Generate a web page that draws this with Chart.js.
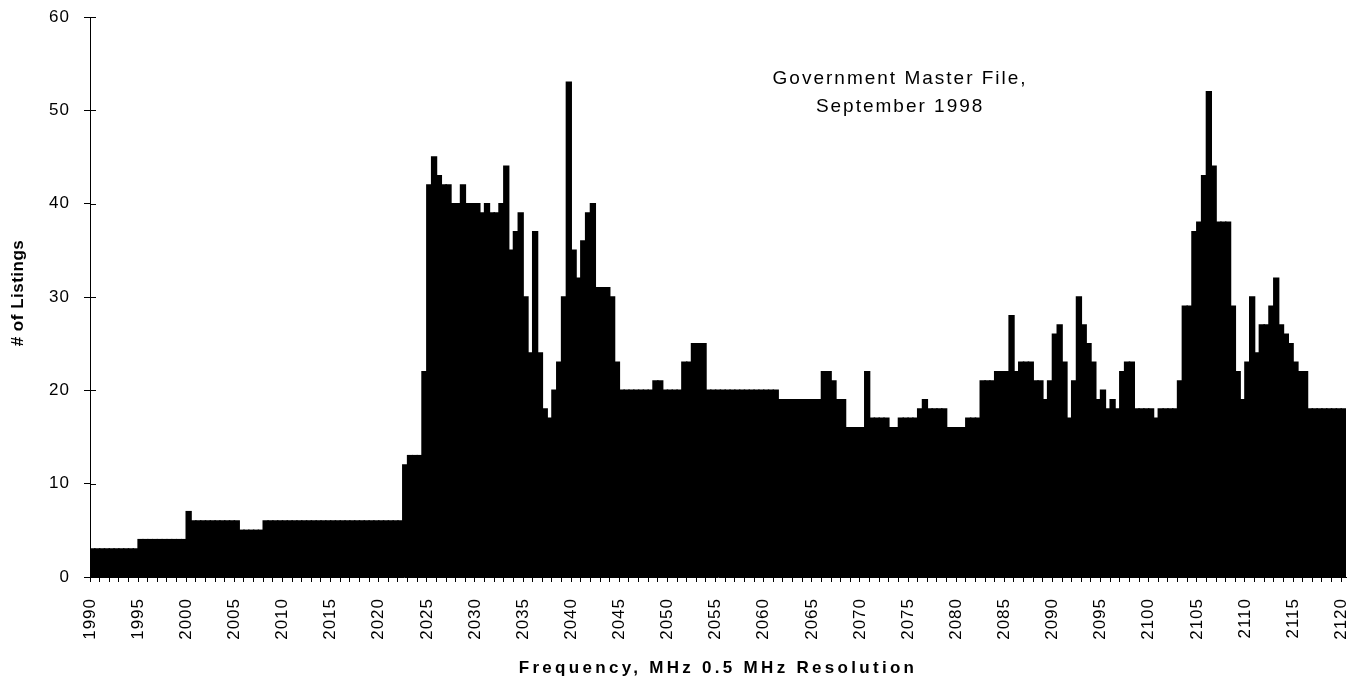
<!DOCTYPE html>
<html>
<head>
<meta charset="utf-8">
<script src="https://cdn.jsdelivr.net/npm/chart.js@4.4.1/dist/chart.umd.min.js"></script>
<style>
  html, body { margin: 0; padding: 0; background: #fff; }
  #wrap { width: 1360px; height: 681px; }
</style>
</head>
<body>
<div id="wrap"><canvas id="chart" width="1360" height="681"></canvas></div>
<script>
/* ===== Government Master File listings, 0.5 MHz bins ===== */
const freqStart = 1990;   // MHz, left edge of first bin
const freqStep = 0.5;     // MHz per bin

// # of listings per bin, 1990.0 ... 2120.0 (10 bins = 5 MHz per row)
const listings = [
  3, 3, 3, 3, 3, 3, 3, 3, 3, 3,
  4, 4, 4, 4, 4, 4, 4, 4, 4, 4,
  7, 6, 6, 6, 6, 6, 6, 6, 6, 6,
  6, 5, 5, 5, 5, 5, 6, 6, 6, 6,
  6, 6, 6, 6, 6, 6, 6, 6, 6, 6,
  6, 6, 6, 6, 6, 6, 6, 6, 6, 6,
  6, 6, 6, 6, 6, 12, 13, 13, 13, 22,
  42, 45, 43, 42, 42, 40, 40, 42, 40, 40,
  40, 39, 40, 39, 39, 40, 44, 35, 37, 39,
  30, 24, 37, 24, 18, 17, 20, 23, 30, 53,
  35, 32, 36, 39, 40, 31, 31, 31, 30, 23,
  20, 20, 20, 20, 20, 20, 20, 21, 21, 20,
  20, 20, 20, 23, 23, 25, 25, 25, 20, 20,
  20, 20, 20, 20, 20, 20, 20, 20, 20, 20,
  20, 20, 20, 19, 19, 19, 19, 19, 19, 19,
  19, 19, 22, 22, 21, 19, 19, 16, 16, 16,
  16, 22, 17, 17, 17, 17, 16, 16, 17, 17,
  17, 17, 18, 19, 18, 18, 18, 18, 16, 16,
  16, 16, 17, 17, 17, 21, 21, 21, 22, 22,
  22, 28, 22, 23, 23, 23, 21, 21, 19, 21,
  26, 27, 23, 17, 21, 30, 27, 25, 23, 19,
  20, 18, 19, 18, 22, 23, 23, 18, 18, 18,
  18, 17, 18, 18, 18, 18, 21, 29, 29, 37,
  38, 43, 52, 44, 38, 38, 38, 29, 22, 19,
  23, 30, 24, 27, 27, 29, 32, 27, 26, 25,
  23, 22, 22, 18, 18, 18, 18, 18, 18, 18,
  18
];

// labelled x ticks (a tick mark every 1 MHz, a label every 5)
const xTickLabels = [1990, 1995, 2000, 2005, 2010, 2015, 2020, 2025, 2030, 2035, 2040,
  2045, 2050, 2055, 2060, 2065, 2070, 2075, 2080, 2085, 2090, 2095, 2100, 2105, 2110, 2115, 2120];

const yMin = 0, yMax = 60, yStep = 10;

const noteLines = ['Government Master File,', 'September 1998'];
const xTitle = 'Frequency, MHz 0.5 MHz Resolution';
const yTitle = '# of Listings';

const FONT = '"Liberation Sans", Arial, sans-serif';

// extra texts + inner half of the y tick marks
const textPlugin = {
  id: 'texts',
  beforeUpdate(chart) { chart.ctx.letterSpacing = '1px'; },
  beforeDraw(chart) { chart.ctx.letterSpacing = '1px'; },
  afterDraw(chart) {
    const { ctx, chartArea, scales } = chart;
    ctx.save();
    ctx.strokeStyle = '#000';
    ctx.lineWidth = 1;
    scales.y.ticks.forEach((t, i) => {
      const y = Math.round(scales.y.getPixelForTick(i)) + 0.5;
      ctx.beginPath();
      ctx.moveTo(chartArea.left, y);
      ctx.lineTo(chartArea.left + 6, y);
      ctx.stroke();
    });

    ctx.fillStyle = '#000';
    ctx.textAlign = 'center';
    ctx.textBaseline = 'middle';

    ctx.font = '19px ' + FONT;
    ctx.letterSpacing = '2px';
    const nx = chartArea.left + chartArea.width * 0.645;
    noteLines.forEach((line, i) => ctx.fillText(line, nx, chartArea.top + 62 + i * 28));

    ctx.font = 'bold 17px ' + FONT;
    ctx.letterSpacing = '3.3px';
    ctx.fillText(xTitle, (chartArea.left + chartArea.right) / 2, 668);

    ctx.letterSpacing = '0.5px';
    ctx.translate(18, (chartArea.top + chartArea.bottom) / 2 - 4);
    ctx.rotate(-Math.PI / 2);
    ctx.fillText(yTitle, 0, 0);
    ctx.restore();
  }
};

new Chart(document.getElementById('chart'), {
  type: 'bar',
  data: {
    datasets: [{
      label: '# of Listings',
      data: listings.map((v, i) => ({ x: freqStart + freqStep * i + freqStep / 2, y: v })),
      backgroundColor: '#000',
      borderWidth: 0,
      inflateAmount: 0.75,
      barPercentage: 1.0,
      categoryPercentage: 1.0
    }]
  },
  options: {
    responsive: false,
    animation: false,
    layout: { padding: { top: 17, right: 14, bottom: 0, left: 0 } },
    plugins: { legend: { display: false }, tooltip: { enabled: false } },
    scales: {
      x: {
        type: 'linear',
        min: freqStart,
        max: freqStart + freqStep * listings.length,
        offset: false,
        grid: { display: true, drawOnChartArea: false, drawTicks: true, tickLength: 5, color: '#000', offset: false },
        border: { display: true, color: '#000', width: 1 },
        ticks: {
          stepSize: 1,
          autoSkip: false,
          maxTicksLimit: 1000,
          includeBounds: false,
          minRotation: 90,
          maxRotation: 90,
          padding: 16,
          color: '#000',
          font: { family: FONT, size: 17 },
          callback: v => xTickLabels.includes(v) ? String(v) : ''
        },
        afterFit(scale) {
          scale.height = 104;
          scale.paddingLeft = 0;
          scale.paddingRight = 0;
        }
      },
      y: {
        min: yMin,
        max: yMax,
        grid: { display: true, drawOnChartArea: false, drawTicks: true, tickLength: 6, color: '#000' },
        border: { display: true, color: '#000', width: 1 },
        ticks: { stepSize: yStep, padding: 14, color: '#000', font: { family: FONT, size: 17 } },
        afterFit(scale) {
          scale.width = 90;
          scale.paddingTop = 0;
          scale.paddingBottom = 0;
        }
      }
    }
  },
  plugins: [textPlugin]
});
</script>
</body>
</html>
